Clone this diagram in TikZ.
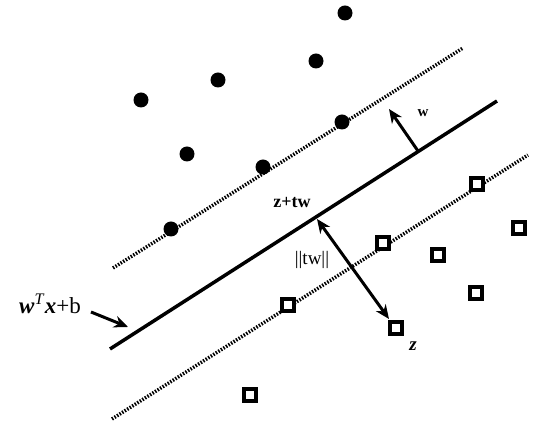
\documentclass[tikz,border=0pt]{standalone}
\usepackage{fontspec}
\setmainfont{Liberation Serif}
\usetikzlibrary{arrows.meta}
\begin{document}
\begin{tikzpicture}[x=1pt,y=-1pt,
  posdot/.style={circle,fill=black,inner sep=0pt,minimum size=15pt},
  negbox/.style={rectangle,draw=black,line width=3.2pt,fill=white,inner sep=0pt,minimum size=12pt},
  margin/.style={line width=3.5pt,dash pattern=on 1.5pt off 1.5pt},
  hyper/.style={line width=3.5pt},
  arr/.style={line width=3pt,-{Stealth[length=14pt,width=12pt]}},
  darr/.style={line width=3pt,{Stealth[length=14pt,width=12pt]}-{Stealth[length=14pt,width=12pt]}},
  lbl/.style={font=\fontsize{18}{20}\selectfont\bfseries,inner sep=1pt}]
\useasboundingbox (0,0) rectangle (542,427);
% lines
\coordinate (h1) at (110,349); \coordinate (h2) at (497,101);
\coordinate (u1) at (113,268); \coordinate (u2) at (463,48);
\coordinate (l1) at (112,419); \coordinate (l2) at (528,155);
\draw[margin] (u1) -- (u2);
\draw[margin] (l1) -- (l2);
\draw[hyper] (h1) -- (h2);
% positive points
\node[posdot] (p1) at (345,13) {};
\node[posdot] (p2) at (316,61) {};
\node[posdot] (p3) at (218,80) {};
\node[posdot] (p4) at (141,100) {};
\node[posdot] (p5) at (342,122) {};
\node[posdot] (p6) at (187,154) {};
\node[posdot] (p7) at (263,167) {};
\node[posdot] (p8) at (171,229) {};
% negative points
\node[negbox] (n1) at (477,184) {};
\node[negbox] (n2) at (519,228) {};
\node[negbox] (n3) at (383,243) {};
\node[negbox] (n4) at (438,255) {};
\node[negbox] (n5) at (476,293) {};
\node[negbox] (n6) at (288,305) {};
\node[negbox] (n7) at (396,328) {};
\node[negbox] (n8) at (250,395) {};
% w arrow
\coordinate (wb) at (418,151);
\coordinate (wt) at (389,109);
\draw[arr] (wb) -- (wt);
\node[lbl,font=\fontsize{15}{17}\selectfont\bfseries] (wl) at (423,113) {w};
% double arrow
\coordinate (zt) at (317,219);
\coordinate (zb) at (389,319);
\draw[darr] (zt) -- (zb);
\node[lbl] (ztw) at (292,203) {z+tw};
\node[lbl,font=\fontsize{19}{21}\selectfont] (tw) at (312,260) {||tw||};
\node[lbl,font=\fontsize{19}{21}\selectfont\bfseries\itshape] (zl) at (413,346) {z};
% hyperplane label
\node[font=\fontsize{23}{25}\selectfont,inner sep=1pt] (eq) at (50,304) {\textbf{\textit{w}}\textsuperscript{\textit{T}}\textbf{\textit{x}}+b};
\coordinate (es) at (91,312);
\coordinate (ea) at (128,327);
\draw[arr] (es) -- (ea);
\end{tikzpicture}
\end{document}
